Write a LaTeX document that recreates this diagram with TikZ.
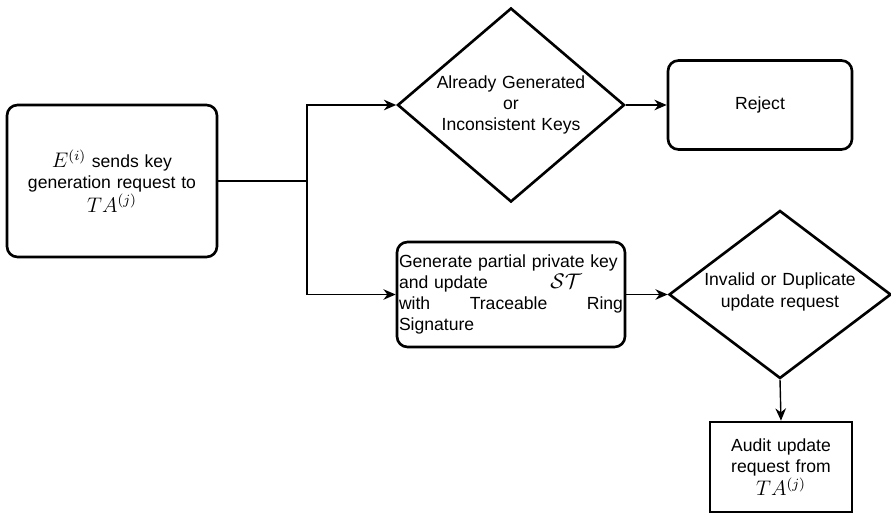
\documentclass[tikz,border=0pt]{standalone}
\usepackage{fontspec}
\setmainfont{Liberation Sans}
\usetikzlibrary{shapes.geometric, arrows.meta}

\begin{document}
\begin{tikzpicture}[
    >={Stealth[length=7pt, width=6pt]},
    font=\fontsize{10}{12}\selectfont,
    box/.style={rectangle, draw=black, line width=1.5pt, text centered},
    rbox/.style={box, rounded corners=6pt},
    startbox/.style={rbox, minimum width=4.2cm, minimum height=3.04cm, text width=3.6cm},
    check/.style={diamond, draw=black, line width=1.5pt, inner sep=0pt},
    checktext/.style={text width=3.6cm, align=center, inner sep=0pt},
    rejectbox/.style={rbox, minimum width=3.68cm, minimum height=1.78cm},
    genbox/.style={rbox, minimum width=4.56cm, minimum height=2.1cm, text width=4.48cm, align=left, inner sep=1pt},
    auditbox/.style={box, minimum width=2.78cm, minimum height=1.8cm, text width=2.6cm},
    link/.style={line width=0.8pt}
]

    % frame of the picture
    \useasboundingbox (0,0) rectangle (17.82,-10.28);

    % 1. Key generation request
    \node[startbox] (req) at (2.24, -3.62) {{\large$E^{(i)}$} sends key\\generation request to\\{\large$TA^{(j)}$}};

    % 2. First check
    \node[check, minimum width=4.54cm, minimum height=3.88cm] (chk1) at (10.22, -2.1) {};
    \node[checktext] (chk1t) at (chk1.center) {Already Generated\\or\\Inconsistent Keys};
    \node[rejectbox] (rej) at (15.2, -2.1) {Reject};

    % 3. Partial key generation
    \node[genbox] (gen) at (10.22, -5.89) {Generate partial private key\\and update\hspace{1.25cm}{\large$\mathcal{ST}$}\\with\hfill Traceable\hfill Ring\\Signature};

    % 4. Second check
    \node[check, minimum width=4.44cm, minimum height=3.36cm] (chk2) at (15.6, -5.89) {};
    \node[checktext, font=\fontsize{10}{13}\selectfont] (chk2t) at ([yshift=0.05cm]chk2.center) {Invalid or Duplicate\\update request};
    \node[auditbox] (audit) at (15.62, -9.34) {Audit update\\request from\\{\large$TA^{(j)}$}};

    % Arrows: request to both branches
    \coordinate (split) at (6.14, -3.62);
    \draw[link] (req.east) -- (split);
    \draw[link, ->] (split) |- (chk1.west);
    \draw[link, ->] (split) |- (gen.west);

    % Arrows: checks
    \draw[link, ->] (chk1.east) -- (rej.west);
    \draw[link, ->] (gen.east) -- (chk2.west);
    \draw[link, ->] (chk2.south) -- (audit.north);

\end{tikzpicture}
\end{document}
